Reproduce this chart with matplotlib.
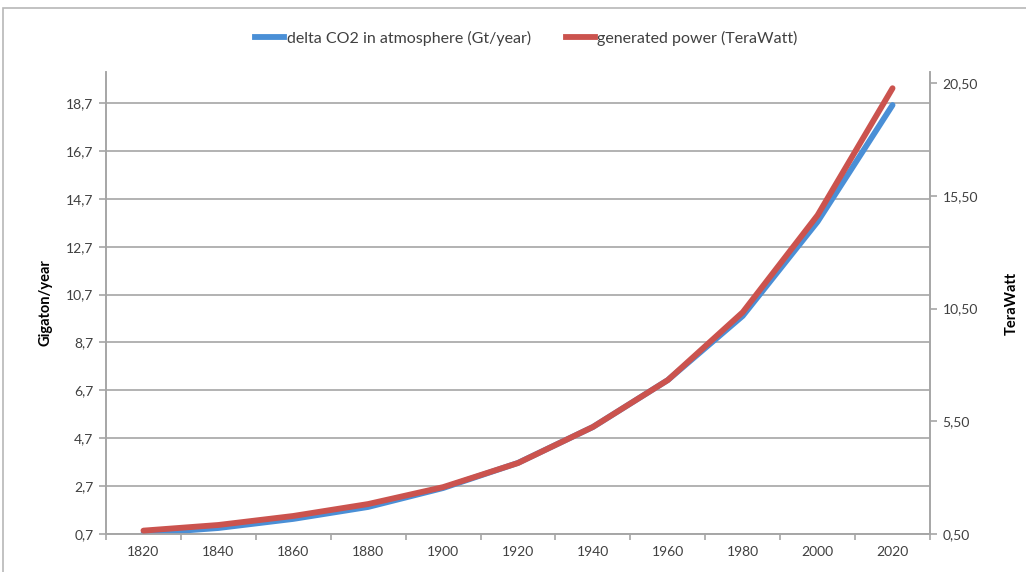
import matplotlib
matplotlib.use("Agg")
import matplotlib.pyplot as plt
from matplotlib.patches import Rectangle
from matplotlib.lines import Line2D
from matplotlib.ticker import FixedLocator, FuncFormatter

plt.rcParams['font.family'] = ['Lato', 'DejaVu Sans']

years = ['1820', '1840', '1860', '1880', '1900', '1920', '1940', '1960', '1980', '2000', '2020']
co2 = [0.72, 0.95, 1.33, 1.83, 2.62, 3.67, 5.17, 7.13, 9.81, 13.75, 18.62]
power = [0.65, 0.90, 1.30, 1.83, 2.58, 3.65, 5.25, 7.33, 10.34, 14.65, 20.28]
left_ticks = [0.7, 2.7, 4.7, 6.7, 8.7, 10.7, 12.7, 14.7, 16.7, 18.7]
right_ticks = [0.5, 5.5, 10.5, 15.5, 20.5]
co2_label = 'delta CO2 in atmosphere (Gt/year)'
power_label = 'generated power (TeraWatt)'

W, H = 1026, 572
fig = plt.figure(figsize=(W / 100, H / 100), dpi=100)
fig.patch.set_facecolor('white')

# outer frame
fig.patches.append(Rectangle((3 / W, -0.1), 1.2, 1 - 8 / H + 0.1, transform=fig.transFigure,
                             fill=False, edgecolor='#b8b8b8', linewidth=1.2))

l, r, b, t = 106 / W, 930 / W, 1 - 534 / H, 1 - 72 / H
ax = fig.add_axes([l, b, r - l, t - b])
ax2 = ax.twinx()

gray = '#a6a6a6'
txt = '#404040'
blue = '#4a8fd6'
red = '#cb534e'
x = list(range(len(years)))

ax.plot(x, co2, color=blue, lw=4.2, solid_capstyle='round', zorder=3)
ax2.plot(x, power, color=red, lw=4.2, solid_capstyle='round', zorder=3)

ax.set_xlim(-0.5, len(years) - 0.5)
ax.set_ylim(0.7, 20.0)
ax2.set_ylim(0.5, 21.0)

ax.set_yticks(left_ticks)
ax.yaxis.set_major_formatter(FuncFormatter(lambda v, p: f"{v:.1f}".replace('.', ',')))
ax2.set_yticks(right_ticks)
ax2.yaxis.set_major_formatter(FuncFormatter(lambda v, p: f"{v:.2f}".replace('.', ',')))

ax.set_xticks(x)
ax.set_xticklabels(years)
ax.xaxis.set_minor_locator(FixedLocator([i - 0.5 for i in range(len(years) + 1)]))
ax.tick_params(axis='x', which='major', length=0, pad=9, labelsize=10, labelcolor=txt)
ax.tick_params(axis='x', which='minor', length=4, color=gray, width=1.2)
ax.tick_params(axis='y', length=5, color=gray, width=1.2, labelsize=10, labelcolor=txt, pad=4)
ax2.tick_params(axis='y', length=5, color=gray, width=1.2, labelsize=10, labelcolor=txt, pad=4)

ax.yaxis.grid(True, color=gray, lw=1.2)
ax.set_axisbelow(True)

for a in (ax, ax2):
    a.spines['top'].set_visible(False)
    for s in ('left', 'right', 'bottom'):
        a.spines[s].set_color(gray)
        a.spines[s].set_linewidth(1.2)

ax.set_ylabel('Gigaton/year', fontsize=10.5, fontweight='bold', color='black', labelpad=10)
ax2.set_ylabel('TeraWatt', fontsize=10.5, fontweight='bold', color='black', labelpad=19)

handles = [Line2D([], [], color=blue, lw=4.2), Line2D([], [], color=red, lw=4.2)]
fig.legend(handles, [co2_label, power_label], loc='center', bbox_to_anchor=(0.513, 1 - 38 / H),
           ncol=2, frameon=False, fontsize=11.5, handlelength=1.8, handletextpad=0.15,
           columnspacing=2.2, labelcolor=txt)

fig.savefig('out.png', dpi=100)
